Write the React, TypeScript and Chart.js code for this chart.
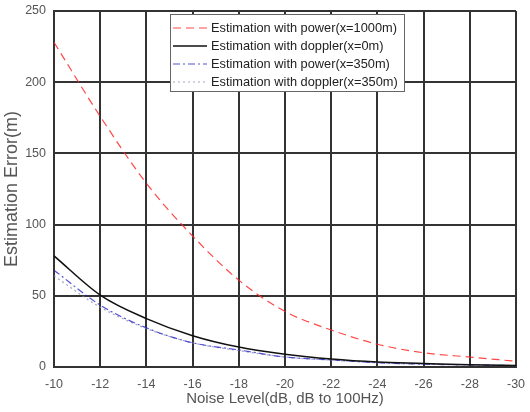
import React, { useEffect, useRef } from 'react';
import { Chart, registerables } from 'chart.js';

Chart.register(...registerables);

const noiseLevels = [-10, -12, -14, -16, -18, -20, -22, -24, -26, -28, -30];
const powerX1000 = [228, 176, 129, 92, 61, 39, 26, 16, 10, 7, 4];
const dopplerX0 = [78, 50.5, 34, 22, 14, 9, 5.6, 3.5, 2.5, 1.5, 1];
const powerX350 = [68, 43.5, 27.5, 17, 12, 7, 5, 3, 2, 1.5, 1];
const dopplerX350 = [64, 42, 27, 17, 11.5, 7, 4.8, 3, 2, 1.4, 1];
const seriesLabels = [
  'Estimation with power(x=1000m)',
  'Estimation with doppler(x=0m)',
  'Estimation with power(x=350m)',
  'Estimation with doppler(x=350m)',
];
const xTitle = 'Noise Level(dB, dB to 100Hz)';
const yTitle = 'Estimation Error(m)';

const FONT = '"Liberation Sans", Arial, sans-serif';

const styles = [
  { color: 'rgba(255,40,40,0.85)', width: 1.2, dash: [8, 5] },
  { color: '#111111', width: 1.5, dash: [] as number[] },
  { color: 'rgba(40,40,200,0.8)', width: 1.2, dash: [7, 3, 2, 3] },
  { color: 'rgba(140,140,180,0.8)', width: 1.2, dash: [2, 3] },
];
const seriesValues = [powerX1000, dopplerX0, powerX350, dopplerX350];

const overlayPlugin = {
  id: 'overlay',
  afterDraw(chart: any) {
    const ctx = chart.ctx as CanvasRenderingContext2D;
    const area = chart.chartArea;
    ctx.save();
    // axis titles
    ctx.fillStyle = '#555555';
    ctx.textAlign = 'center';
    ctx.textBaseline = 'middle';
    ctx.font = `15px ${FONT}`;
    ctx.fillText(xTitle, (area.left + area.right) / 2, 399);
    ctx.save();
    ctx.font = `18px ${FONT}`;
    ctx.translate(12, (area.top + area.bottom) / 2);
    ctx.rotate(-Math.PI / 2);
    ctx.fillText(yTitle, 0, 0);
    ctx.restore();

    // legend box
    const bx = 170, by = 14, bw = 234, bh = 77;
    ctx.fillStyle = '#ffffff';
    ctx.fillRect(bx, by, bw, bh);
    ctx.strokeStyle = '#666666';
    ctx.lineWidth = 1;
    ctx.strokeRect(bx + 0.5, by + 0.5, bw, bh);
    ctx.font = `12.8px ${FONT}`;
    ctx.textAlign = 'left';
    ctx.textBaseline = 'middle';
    seriesLabels.forEach((lab, i) => {
      const y = by + 14 + i * 18;
      const s = styles[i];
      ctx.strokeStyle = s.color;
      ctx.lineWidth = s.width;
      ctx.setLineDash(s.dash);
      ctx.beginPath();
      ctx.moveTo(173, y);
      ctx.lineTo(207, y);
      ctx.stroke();
      ctx.setLineDash([]);
      ctx.fillStyle = '#222222';
      ctx.fillText(lab, 211, y);
    });
    ctx.restore();
  },
};

export default function App() {
  const ref = useRef<HTMLCanvasElement | null>(null);
  useEffect(() => {
    if (!ref.current) return;
    const chart = new Chart(ref.current, {
      type: 'line',
      data: {
        datasets: seriesValues.map((vals, i) => ({
          label: seriesLabels[i],
          data: vals.map((v, j) => ({ x: noiseLevels[j], y: v })),
          borderColor: styles[i].color,
          borderWidth: styles[i].width,
          borderDash: styles[i].dash,
          pointRadius: 0,
          fill: false,
          cubicInterpolationMode: 'monotone' as const,
        })),
      },
      options: {
        animation: false,
        responsive: false,
        layout: { padding: { top: 11, right: 14, left: 0, bottom: 0 } },
        plugins: { legend: { display: false }, tooltip: { enabled: false } },
        scales: {
          x: {
            type: 'linear',
            min: -30,
            max: -10,
            reverse: true,
            ticks: {
              stepSize: 2,
              color: '#555555',
              font: { family: FONT, size: 12.5 },
              padding: 10,
              maxRotation: 0,
            },
            grid: { color: '#333333', lineWidth: 2, drawTicks: false },
            border: { color: '#333333', width: 2 },
            afterFit(scale: any) {
              scale.height = 45;
              scale.paddingLeft = 0;
              scale.paddingRight = 0;
            },
          },
          y: {
            type: 'linear',
            min: 0,
            max: 250,
            ticks: {
              stepSize: 50,
              color: '#555555',
              font: { family: FONT, size: 12.5 },
              padding: 8,
            },
            grid: { color: '#333333', lineWidth: 2, drawTicks: false },
            border: { color: '#333333', width: 2 },
            afterFit(scale: any) {
              scale.width = 54;
              scale.paddingTop = 0;
              scale.paddingBottom = 0;
            },
          },
        },
      },
      plugins: [overlayPlugin],
    });
    return () => chart.destroy();
  }, []);
  return (
    <div style={{ position: 'absolute', left: 0, top: 0, width: 530, height: 412, background: '#fff' }}>
      <canvas ref={ref} width={530} height={412} />
    </div>
  );
}
